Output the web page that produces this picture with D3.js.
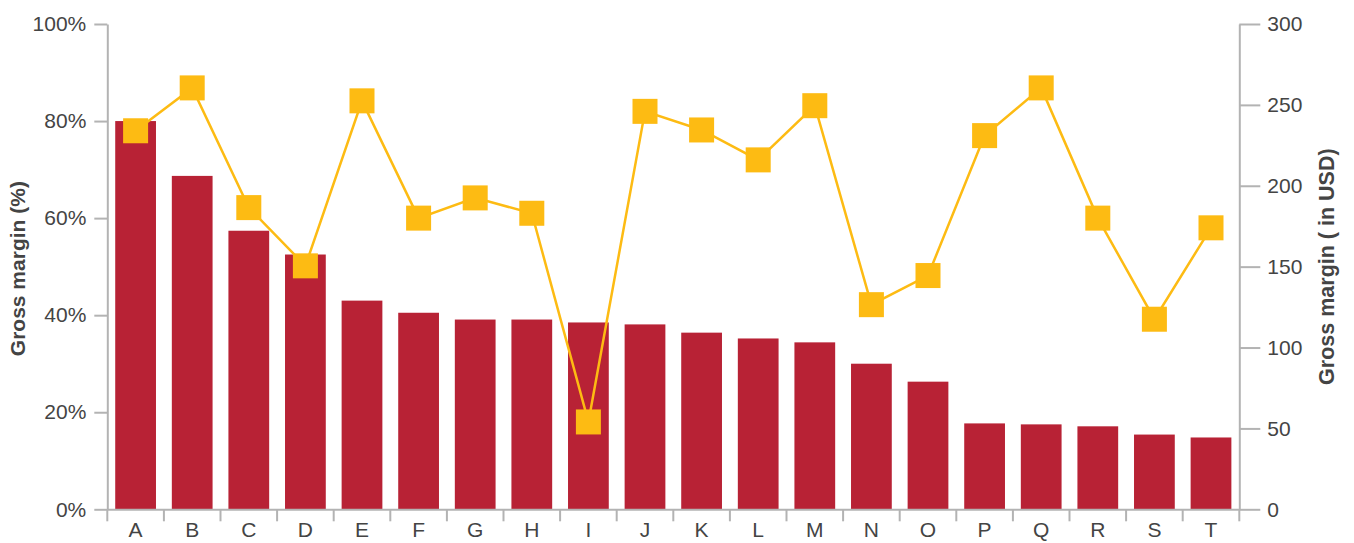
<!DOCTYPE html>
<html>
<head>
<meta charset="utf-8">
<script src="https://cdn.jsdelivr.net/npm/d3@7"></script>
<style>
  html, body { margin: 0; padding: 0; background: #fff; }
  svg { display: block; }
  .tick text { font-family: "Liberation Sans", Arial, sans-serif; fill: #444; }
</style>
</head>
<body>
<svg id="chart" width="1354" height="543"></svg>
<script>
// Categories and the two series
const categories = ["A","B","C","D","E","F","G","H","I","J","K","L","M","N","O","P","Q","R","S","T"];
const marginPct = [80, 68.7, 57.4, 52.5, 43, 40.5, 39.1, 39.1, 38.5, 38.1, 36.4, 35.2, 34.4, 30, 26.3, 17.7, 17.5, 17.1, 15.4, 14.8];
const marginUsd = [234, 260.5, 186.5, 150.5, 252.5, 180, 192.5, 183, 54, 246, 234.5, 216, 249.5, 126.5, 144.5, 231, 260.5, 180, 117.5, 174];
const pctTicks = [0, 20, 40, 60, 80, 100];
const usdTicks = [0, 50, 100, 150, 200, 250, 300];

const W = 1354, H = 543;
const margin = { top: 24, right: 114.7, bottom: 33.7, left: 107.3 };
const innerW = W - margin.left - margin.right;
const innerH = H - margin.top - margin.bottom;

const barColor = "#B82235";
const lineColor = "#FDBB13";
const axisColor = "#B3B3B3";
const font = '"Liberation Sans", Arial, sans-serif';

const svg = d3.select("#chart");
const g = svg.append("g").attr("transform", `translate(${margin.left},${margin.top})`);

const x = d3.scaleBand().domain(categories).range([0, innerW]).paddingInner(0.28).paddingOuter(0.14);
const yL = d3.scaleLinear().domain([0, 100]).range([innerH, 0]);
const yR = d3.scaleLinear().domain([0, 300]).range([innerH, 0]);

// Bars: gross margin in percent
g.selectAll("rect.bar")
  .data(categories)
  .join("rect")
  .attr("class", "bar")
  .attr("x", d => x(d))
  .attr("width", x.bandwidth())
  .attr("y", (d, i) => yL(marginPct[i]))
  .attr("height", (d, i) => innerH - yL(marginPct[i]))
  .attr("fill", barColor);

// Axes
function styleAxis(sel) {
  sel.selectAll(".domain").attr("stroke", axisColor).attr("stroke-width", 2);
  sel.selectAll(".tick line").attr("stroke", axisColor).attr("stroke-width", 2);
  sel.selectAll(".tick text").style("font-size", "21px").attr("fill", "#444");
}

const axL = g.append("g")
  .call(d3.axisLeft(yL).tickValues(pctTicks).tickFormat(d => d + "%").tickSize(13).tickSizeOuter(0).tickPadding(8));
styleAxis(axL);

const axR = g.append("g")
  .attr("transform", `translate(${innerW},0)`)
  .call(d3.axisRight(yR).tickValues(usdTicks).tickSize(21).tickSizeOuter(0).tickPadding(7));
styleAxis(axR);

// Bottom axis with ticks on the band boundaries
const axB = g.append("g")
  .attr("transform", `translate(0,${innerH})`)
  .call(d3.axisBottom(x).tickSize(0).tickSizeOuter(0).tickPadding(13));
styleAxis(axB);
axB.selectAll(".tick text").attr("dy", "0.71em");
const bounds = d3.range(categories.length + 1).map(i => i * x.step());
axB.selectAll("line.bound")
  .data(bounds)
  .join("line")
  .attr("class", "bound")
  .attr("x1", d => d).attr("x2", d => d)
  .attr("y1", 0).attr("y2", 12)
  .attr("stroke", axisColor).attr("stroke-width", 2);

// Line: gross margin in USD
const cx = d => x(d) + x.bandwidth() / 2;
const line = d3.line().x((d, i) => cx(categories[i])).y(d => yR(d));
g.append("path")
  .datum(marginUsd)
  .attr("d", line)
  .attr("fill", "none")
  .attr("stroke", lineColor)
  .attr("stroke-width", 2.5);

const sq = 25;
g.selectAll("rect.marker")
  .data(categories)
  .join("rect")
  .attr("class", "marker")
  .attr("x", d => cx(d) - sq / 2)
  .attr("y", (d, i) => yR(marginUsd[i]) - sq / 2)
  .attr("width", sq)
  .attr("height", sq)
  .attr("fill", lineColor);

// Axis titles
svg.append("text")
  .attr("transform", `translate(25,${margin.top + innerH / 2 + 2}) rotate(-90)`)
  .attr("text-anchor", "middle")
  .attr("font-family", font)
  .attr("font-weight", "bold")
  .attr("font-size", 21)
  .attr("fill", "#444")
  .text("Gross margin (%)");

svg.append("text")
  .attr("transform", `translate(1334,${margin.top + innerH / 2}) rotate(-90)`)
  .attr("text-anchor", "middle")
  .attr("font-family", font)
  .attr("font-weight", "bold")
  .attr("font-size", 21.5)
  .attr("fill", "#444")
  .text("Gross margin ( in USD)");
</script>
</body>
</html>
